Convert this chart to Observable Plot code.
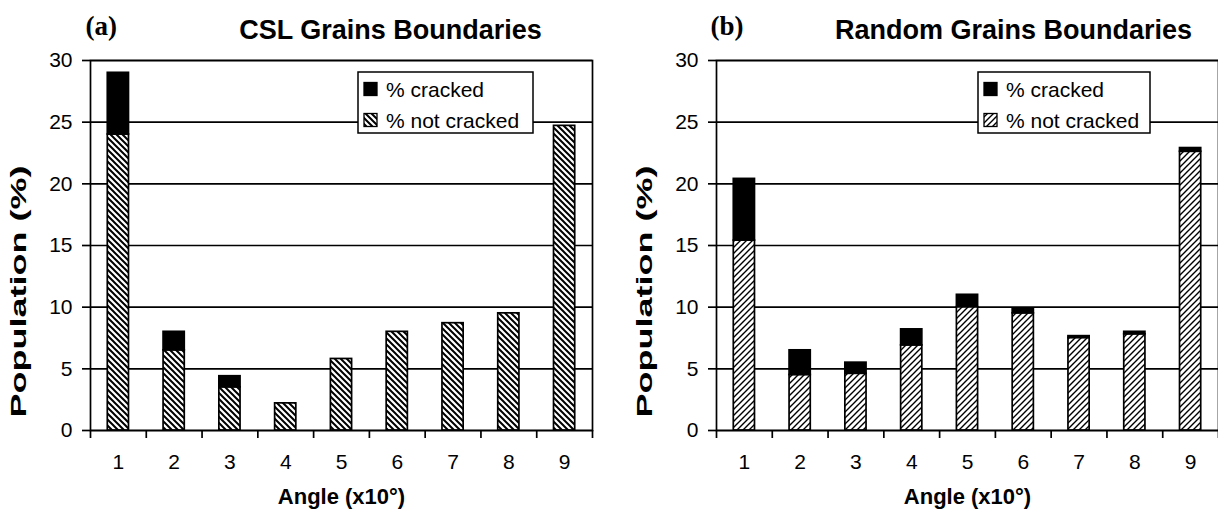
<!DOCTYPE html>
<html><head><meta charset="utf-8">
<script src="https://cdn.jsdelivr.net/npm/d3@7"></script>
<script src="https://cdn.jsdelivr.net/npm/@observablehq/plot@0.6"></script>
<style>
html,body{margin:0;padding:0;background:#fff;}
#wrap{position:relative;width:1218px;height:510px;overflow:hidden;}
#wrap svg{position:absolute;top:0;}
</style></head><body><div id="wrap"></div>
<script>
const angles = [1, 2, 3, 4, 5, 6, 7, 8, 9];
const yTicks = [0, 5, 10, 15, 20, 25, 30];
const cslNotCracked = [24.0, 6.5, 3.5, 2.2, 5.8, 8.0, 8.7, 9.5, 24.7];
const cslCracked    = [5.0, 1.5, 0.9, 0, 0, 0, 0, 0, 0];
const rndNotCracked = [15.4, 4.5, 4.6, 6.9, 10.0, 9.5, 7.5, 7.8, 22.6];
const rndCracked    = [5.0, 2.0, 0.9, 1.3, 1.0, 0.4, 0.15, 0.2, 0.3];
const seriesNames = ["% cracked", "% not cracked"];
const panelTags = ["(a)", "(b)"];
const panelTitles = ["CSL Grains Boundaries", "Random Grains Boundaries"];
const xLabel = "Angle (x10°)";
const yLabel = "Population (%)";

const SANS = "'Liberation Sans', Arial, sans-serif";
const SERIF = "'Liberation Serif', 'Times New Roman', serif";

function hatchPath(dir, p) {
  if (dir === "back") return `M-1,-1L${p+1},${p+1}M${p-1},-1L${p+1},1M-1,${p-1}L1,${p+1}`;
  return `M-1,${p+1}L${p+1},-1M-1,1L1,-1M${p-1},${p+1}L${p+1},${p-1}`;
}

function chart(o) {
  const rows = angles.map((a, i) => ({angle: a, notCracked: o.notCracked[i], total: o.notCracked[i] + o.cracked[i]}));
  const boundaries = angles.map(a => a - 0.5).concat([angles[angles.length - 1] + 0.5]);
  const barHalf = 0.19;
  const fillUrl = `url(#${o.id})`;
  const sw = 1.7;
  const svg = Plot.plot({
    width: 609, height: 510,
    marginLeft: o.marginLeft, marginRight: o.marginRight, marginTop: 60, marginBottom: 80,
    x: {domain: [0.5, 9.5]},
    y: {domain: [0, 30]},
    style: {fontFamily: SANS, color: "black", background: "white"},
    marks: [
      Plot.ruleY(yTicks, {stroke: "black", strokeWidth: sw}),
      Plot.rectY(rows, {x1: d => d.angle - barHalf, x2: d => d.angle + barHalf, y1: 0, y2: "notCracked",
        fill: fillUrl, stroke: "black", strokeWidth: sw}),
      Plot.rectY(rows.filter(d => d.total > d.notCracked), {x1: d => d.angle - barHalf, x2: d => d.angle + barHalf,
        y1: "notCracked", y2: "total", fill: "black", stroke: "black", strokeWidth: sw}),
      Plot.frame({stroke: "black", strokeWidth: sw}),
      Plot.axisY({ticks: yTicks, tickSize: 8, tickPadding: 10, fontSize: 21, strokeWidth: sw, label: null}),
      Plot.axisX({ticks: boundaries, tickSize: 8, tickFormat: () => "", strokeWidth: sw, label: null}),
      Plot.axisX({ticks: angles, tickSize: 0, tickPadding: 24, fontSize: 21, label: null}),
      Plot.text([xLabel], {frameAnchor: "bottom", dy: 73, lineAnchor: "bottom", textAnchor: "middle",
        fontSize: 22, fontWeight: "bold"}),
      Plot.text([yLabel], {frameAnchor: "left", dx: -72, dy: 46, rotate: -90, textAnchor: "middle",
        lineAnchor: "middle", fontSize: 22, fontWeight: "bold"}),
      Plot.text([o.title], {frameAnchor: "top-left", dx: o.titleX - o.marginLeft, dy: -22, lineAnchor: "bottom",
        textAnchor: "middle", fontSize: 27, fontWeight: "bold"}),
      Plot.text([o.tag], {frameAnchor: "top-left", dx: o.tagX - o.marginLeft, dy: -26, lineAnchor: "bottom",
        textAnchor: "start", fontSize: 27, fontWeight: "bold", fontFamily: SERIF})
    ]
  });
  const s = d3.select(svg);
  const pat = s.insert("defs", ":first-child").append("pattern")
    .attr("id", o.id).attr("patternUnits", "userSpaceOnUse").attr("width", 6).attr("height", 6);
  pat.append("rect").attr("width", 6).attr("height", 6).attr("fill", "white");
  pat.append("path").attr("d", hatchPath(o.dir, 6)).attr("stroke", "black").attr("stroke-width", o.hatchWidth);
  s.selectAll("text").filter(function () { return this.textContent === yLabel; })
    .attr("textLength", 252).attr("lengthAdjust", "spacingAndGlyphs");
  // legend
  const g = s.append("g").attr("font-family", SANS).attr("font-size", 21).attr("text-anchor", "start");
  g.append("rect").attr("x", o.legendX).attr("y", 72).attr("width", o.legendW).attr("height", 61)
    .attr("fill", "white").attr("stroke", "black").attr("stroke-width", 1.5);
  const fills = ["black", fillUrl];
  seriesNames.forEach((name, i) => {
    const cy = 89 + i * 31;
    g.append("rect").attr("x", o.legendX + 6).attr("y", cy - 6.5).attr("width", 13).attr("height", 13)
      .attr("fill", fills[i]).attr("stroke", "black").attr("stroke-width", 1.3);
    g.append("text").attr("x", o.legendX + 28).attr("y", cy).attr("dy", "0.36em")
      .attr("text-anchor", "start").attr("fill", "black").text(name);
  });
  svg.style.left = o.left + "px";
  return svg;
}

const wrap = document.getElementById("wrap");
wrap.appendChild(chart({id: "hatchA", notCracked: cslNotCracked, cracked: cslCracked, marginLeft: 90, marginRight: 17,
  left: 0, dir: "back", hatchWidth: 2.0, title: panelTitles[0], tag: panelTags[0], titleX: 390, tagX: 85,
  legendX: 358, legendW: 175}));
wrap.appendChild(chart({id: "hatchB", notCracked: rndNotCracked, cracked: rndCracked, marginLeft: 107, marginRight: 0,
  left: 609, dir: "fwd", hatchWidth: 1.4, title: panelTitles[1], tag: panelTags[1], titleX: 404, tagX: 101,
  legendX: 369, legendW: 172}));
</script></body></html>
